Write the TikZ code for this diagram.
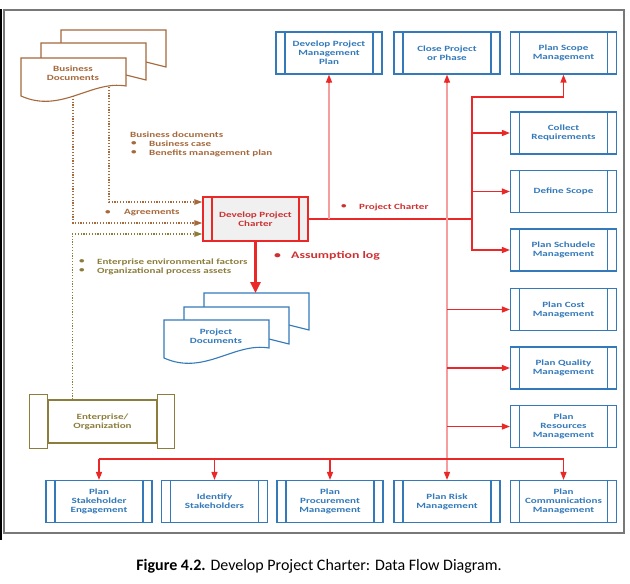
\documentclass[tikz,border=0pt]{standalone}
\usepackage{fontspec}
\setmainfont{Carlito}
\newfontfamily\dfont[FakeStretch=1.38]{Carlito}
\usetikzlibrary{arrows.meta,calc}
\definecolor{boxblue}{RGB}{52,122,186}
\definecolor{docbrown}{RGB}{165,105,60}
\definecolor{olivec}{RGB}{140,125,60}
\definecolor{redc}{RGB}{235,40,40}
\definecolor{redtxt}{RGB}{205,50,50}
\definecolor{framegray}{RGB}{120,120,120}
\begin{document}
\begin{tikzpicture}[x=1pt,y=-1pt,
  dfnt/.style={font=\dfont\bfseries\fontsize{8}{9}\selectfont},
  bars/.style={path picture={\draw[line width=1.1pt,#1]
      ([xshift=9pt]path picture bounding box.north west) -- ([xshift=9pt]path picture bounding box.south west)
      ([xshift=-9pt]path picture bounding box.north east) -- ([xshift=-9pt]path picture bounding box.south east);}},
  procbox/.style={dfnt, draw=boxblue, text=boxblue, line width=1.1pt, minimum width=106pt,
      minimum height=42pt, inner sep=0pt, align=center, fill=white, bars=boxblue},
  charterbox/.style={dfnt, draw=redc, text=redtxt, line width=1.4pt, minimum width=105pt,
      minimum height=44pt, inner sep=0pt, align=center, fill=gray!12, bars=redc},
  rline/.style={draw=redc, line width=1.2pt},
  rarrow/.style={draw=redc, line width=1.2pt, -{Triangle[length=8pt,width=6pt]}},
  bigarrow/.style={draw=redc, line width=2.6pt, -{Triangle[length=11pt,width=10pt]}},
  dbl/.style={draw=redc, line width=0.8pt, double=redc!45, double distance=1.3pt},
  bdot/.style={draw=docbrown, line width=1.2pt, dash pattern=on 1.2pt off 1.6pt, -{Triangle[length=8pt,width=5.5pt]}},
  odot/.style={draw=olivec, line width=1.2pt, dash pattern=on 1.2pt off 1.6pt, -{Triangle[length=8pt,width=5.5pt]}},
  lbl/.style={dfnt, anchor=west, inner sep=0pt},
  pics/frontdoc/.style={code={\draw[fill=white, line width=1.1pt] (0,0) -- (105,0) -- (105,28)
      .. controls (70,22) and (40,56) .. (0,38) -- cycle;}},
  pics/backdoc/.style={code={\draw[fill=white, line width=1.1pt] (0,0) -- (105,0) -- (105,37)
      -- (85,32) -- (0,32) -- cycle;}}
]
\useasboundingbox (0,0) rectangle (630,584);
% frame
\fill[black] (0,9) rectangle (2,540);
\draw[framegray, line width=1.6pt] (4,10) rectangle (624,533);

% business documents
\pic[color=docbrown] at (61,30) {backdoc};
\pic[color=docbrown] at (41,43) {backdoc};
\pic[color=docbrown] at (21,58) {frontdoc};
\node[dfnt, text=docbrown, align=center] (bd) at (73,73) {Business\\Documents};

% project documents
\pic[color=boxblue] at (204,293) {backdoc};
\pic[color=boxblue] at (184,307) {backdoc};
\pic[color=boxblue] at (164,320) {frontdoc};
\node[dfnt, text=boxblue, align=center] (pdt) at (216,336.5) {Project\\Documents};
\coordinate (pd) at (255.5,293);

% enterprise
\node[dfnt, draw=olivec, text=olivec, line width=1.2pt, minimum width=109pt, minimum height=43pt,
  inner sep=0pt, align=center] (ent) at (102.5,421.5) {Enterprise/\\Organization};
\draw[olivec, line width=1.2pt, fill=white] ([yshift=5pt]ent.north west) rectangle ([xshift=-18pt,yshift=-5pt]ent.south west);
\draw[olivec, line width=1.2pt, fill=white] ([yshift=5pt]ent.north east) rectangle ([xshift=17pt,yshift=-5pt]ent.south east);

% process boxes
\node[procbox] (dpmp) at (329,53) {Develop Project\\Management\\Plan};
\node[procbox] (close) at (447,53) {Close Project\\or Phase};
\node[procbox] (scope) at (563.5,53) {Plan Scope\\Management};
\node[procbox] (coll) at (563.5,133) {Collect\\Requirements};
\node[procbox] (def) at (563.5,191.5) {Define Scope};
\node[procbox] (sched) at (563.5,250) {Plan Schudele\\Management};
\node[procbox] (cost) at (563.5,309.5) {Plan Cost\\Management};
\node[procbox] (qual) at (563.5,368) {Plan Quality\\Management};
\node[procbox] (res) at (563.5,426.5) {Plan\\Resources\\Management};
\node[procbox] (stk) at (99,501.5) {Plan\\Stakeholder\\Engagement};
\node[procbox] (ident) at (214.5,501.5) {Identify\\Stakeholders};
\node[procbox] (proc) at (330,501.5) {Plan\\Procurement\\Management};
\node[procbox] (risk) at (447,501.5) {Plan Risk\\Management};
\node[procbox] (comm) at (563.5,501.5) {Plan\\Communications\\Management};

\node[charterbox] (ch) at (255.5,219) {Develop Project\\Charter};

% dotted inputs
\draw[bdot] (109,87) |- ([yshift=17pt]ch.west);
\draw[bdot] (73,96) |- ([yshift=-4pt]ch.west);
\draw[odot] ([xshift=25pt]ent.north west) |- ([yshift=-15pt]ch.west);

% red outputs
\coordinate (j) at (472,219);
\coordinate (jt) at (472,97);
\draw[rline] (ch.east) -- (j);
\draw[rarrow] (j) -- (jt) -| (scope.south);
\draw[rarrow] (j) |- (sched.west);
\draw[rarrow] (coll.west -| j) -- (coll.west);
\draw[rarrow] (def.west -| j) -- (def.west);

\draw[dbl] (ch.east -| dpmp.south) -- ([yshift=-7pt]dpmp.south);
\draw[rarrow] ([yshift=-8pt]dpmp.south) -- (dpmp.south);

\draw[dbl] ([yshift=-7pt]close.south) -- ([yshift=7pt]risk.north);
\draw[rarrow] ([yshift=-8pt]close.south) -- (close.south);
\draw[rarrow] ([yshift=8pt]risk.north) -- (risk.north);
\draw[rarrow] (cost.west -| close.south) -- (cost.west);
\draw[rarrow] (qual.west -| close.south) -- (qual.west);
\draw[rarrow] (res.west -| close.south) -- (res.west);

\coordinate (bus) at (0,459);
\draw[rline] (bus -| stk.north) -- (bus -| comm.north);
\foreach \n in {stk,ident,proc,comm} \draw[rarrow] (bus -| \n.north) -- (\n.north);

\draw[bigarrow] (ch.south) -- (pd);

% labels
\node[lbl, text=docbrown] (l1) at (130,135) {Business documents};
\node[lbl, text=docbrown] (l1a) at (131,144) {•};
\node[lbl, text=docbrown] (l1b) at (149,144) {Business case};
\node[lbl, text=docbrown] (l1c) at (131,153) {•};
\node[lbl, text=docbrown] (l1d) at (149,153) {Benefits management plan};
\node[lbl, text=docbrown] (l2a) at (105,213) {•};
\node[lbl, text=docbrown] (l2b) at (124,213) {Agreements};
\node[lbl, text=olivec] (l3a) at (79,262) {•};
\node[lbl, text=olivec] (l3b) at (97,262) {Enterprise environmental factors};
\node[lbl, text=olivec] (l3c) at (79,271) {•};
\node[lbl, text=olivec] (l3d) at (97,271) {Organizational process assets};
\node[lbl, text=redtxt] (l4a) at (341,207) {•};
\node[lbl, text=redtxt] (l4b) at (359,207) {Project Charter};
\node[lbl, text=redtxt, font=\dfont\bfseries\fontsize{10}{12}\selectfont] (l5a) at (274,256) {•};
\node[lbl, text=redtxt, font=\dfont\bfseries\fontsize{10}{12}\selectfont] (l5b) at (291,256) {Assumption log};

% caption
\node[font=\fontsize{16}{19}\selectfont] (cap) at (319,566) {\textbf{Figure 4.2.} Develop Project Charter: Data Flow Diagram.};
\end{tikzpicture}
\end{document}
